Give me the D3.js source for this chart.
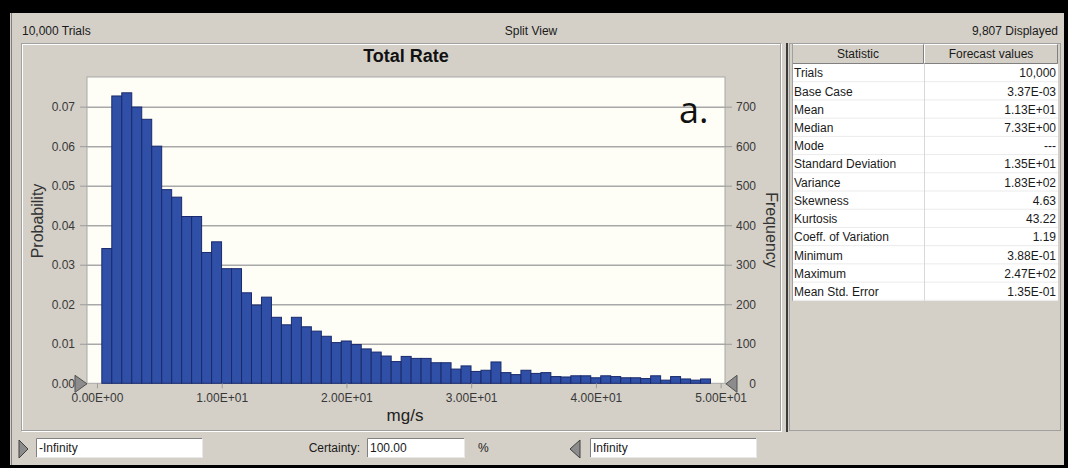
<!DOCTYPE html>
<html>
<meta charset="utf-8">
<style>
  body { margin: 0; background: #000; }
  svg { display: block; font-family: "Liberation Sans", Arial, sans-serif; }
  .axis path.domain { display: none; }
  .axis line { stroke: #9c9c9c; }
  .axis text { fill: #383838; font-size: 12px; font-family: "Liberation Sans", Arial, sans-serif; }
  .grid line { stroke: #a8a8a8; stroke-width: 1.5; }
  .grid path.domain { display: none; }
  .ui { font-size: 12px; fill: #1a1a1a; }
</style>
<body>
<svg width="1068" height="468"></svg>

<script src="https://d3js.org/d3.v7.min.js"></script>
<script>

// histogram counts per bin, 10,000 trials
var freq = [341, 727, 735, 699, 668, 600, 490, 471, 422, 422,
            331, 358, 290, 290, 229, 198, 218, 167, 148, 167,
            143, 132, 119, 103, 107, 98, 87, 79, 69, 55,
            68, 63, 63, 52, 52, 36, 44, 30, 33, 54,
            27, 22, 33, 25, 27, 17, 16, 19, 19, 14,
            19, 17, 14, 14, 12, 19, 8, 17, 11, 8, 11];
var binStart = 0.388, binWidth = 0.8;
var trials = 10000;

var xTicks = [0, 10, 20, 30, 40, 50];
var probTicks = [0, 0.01, 0.02, 0.03, 0.04, 0.05, 0.06, 0.07];
var freqTicks = [0, 100, 200, 300, 400, 500, 600, 700];

var statNames = ["Trials", "Base Case", "Mean", "Median", "Mode", "Standard Deviation",
                 "Variance", "Skewness", "Kurtosis", "Coeff. of Variation",
                 "Minimum", "Maximum", "Mean Std. Error"];
var statValues = ["10,000", "3.37E-03", "1.13E+01", "7.33E+00", "---", "1.35E+01",
                  "1.83E+02", "4.63", "43.22", "1.19", "3.88E-01", "2.47E+02", "1.35E-01"];

var svg = d3.select("svg");

// window chrome
svg.append("rect").attr("x", 10).attr("y", 13).attr("width", 1054).attr("height", 452)
  .attr("fill", "#d4d0c8");
svg.append("line").attr("x1", 11.5).attr("x2", 11.5).attr("y1", 13).attr("y2", 465)
  .attr("stroke", "#808080");

svg.append("text").attr("class", "ui").attr("x", 22).attr("y", 35).text("10,000 Trials");
svg.append("text").attr("class", "ui").attr("x", 531).attr("y", 35)
  .attr("text-anchor", "middle").text("Split View");
svg.append("text").attr("class", "ui").attr("x", 1058).attr("y", 35)
  .attr("text-anchor", "end").text("9,807 Displayed");

// chart panel (etched border)
svg.append("rect").attr("x", 22.5).attr("y", 44.5).attr("width", 759).attr("height", 387)
  .attr("fill", "none").attr("stroke", "#fff");
svg.append("rect").attr("x", 21.5).attr("y", 43.5).attr("width", 759).attr("height", 387)
  .attr("fill", "none").attr("stroke", "#a0a0a0");

// stats panel
svg.append("rect").attr("x", 789.5).attr("y", 43.5).attr("width", 271).attr("height", 387)
  .attr("fill", "none").attr("stroke", "#a0a0a0");
svg.append("line").attr("x1", 787).attr("x2", 787).attr("y1", 43).attr("y2", 432)
  .attr("stroke", "#3a3a3a").attr("stroke-width", 2);

// plot
var plot = {left: 87, right: 725, top: 77, bottom: 383.3};

var x = d3.scaleLinear().domain([-0.8, 50.35]).range([plot.left, plot.right]);
var yProb = d3.scaleLinear().domain([0, 0.0775]).range([plot.bottom, plot.top]);
var yFreq = d3.scaleLinear().domain([0, 0.0775 * trials]).range([plot.bottom, plot.top]);

svg.append("rect").attr("x", plot.left).attr("y", plot.top)
  .attr("width", plot.right - plot.left).attr("height", plot.bottom - plot.top)
  .attr("fill", "#fefef6").attr("stroke", "#a8a8a8");

svg.append("g").attr("class", "grid")
  .attr("transform", "translate(" + plot.left + ",0)")
  .call(d3.axisLeft(yProb).tickValues(probTicks.slice(1))
    .tickSize(-(plot.right - plot.left)).tickFormat(""));

function sci(d) {
  if (d === 0) return "0.00E+00";
  var e = Math.floor(Math.log10(Math.abs(d)));
  var m = d / Math.pow(10, e);
  return m.toFixed(2) + "E" + (e < 0 ? "-" : "+") + String(Math.abs(e)).padStart(2, "0");
}

// bars
svg.append("g").selectAll("rect")
  .data(freq)
  .enter().append("rect")
    .attr("x", function(d, i) { return x(binStart + i * binWidth); })
    .attr("width", function() { return x(binWidth) - x(0); })
    .attr("y", function(d) { return yFreq(d); })
    .attr("height", function(d) { return yFreq(0) - yFreq(d); })
    .attr("fill", "#2f50a6")
    .attr("stroke", "#1a2a6c")
    .attr("stroke-width", 1);

svg.append("g").attr("class", "axis")
  .attr("transform", "translate(" + plot.left + ",0)")
  .call(d3.axisLeft(yProb).tickValues(probTicks).tickSize(7).tickPadding(5)
    .tickFormat(d3.format(".2f")));

var rightAxis = svg.append("g").attr("class", "axis")
  .attr("transform", "translate(" + plot.right + ",0)")
  .call(d3.axisRight(yFreq).tickValues(freqTicks).tickSize(7).tickFormat(d3.format("d")));
rightAxis.selectAll("text").attr("text-anchor", "end").attr("x", 31);

svg.append("g").attr("class", "axis")
  .attr("transform", "translate(0," + plot.bottom + ")")
  .call(d3.axisBottom(x).tickValues(xTicks).tickSize(5).tickPadding(5).tickFormat(sci));

// certainty grabbers
svg.append("path")
  .attr("d", "M" + (plot.left - 12) + "," + (plot.bottom - 8) + "L" + plot.left + "," + (plot.bottom + 0.5) +
             "L" + (plot.left - 12) + "," + (plot.bottom + 9) + "Z")
  .attr("fill", "#8c8c8c").attr("stroke", "#505050");
svg.append("path")
  .attr("d", "M" + (plot.right + 12) + "," + (plot.bottom - 8) + "L" + (plot.right + 1) + "," + (plot.bottom + 0.5) +
             "L" + (plot.right + 12) + "," + (plot.bottom + 9) + "Z")
  .attr("fill", "#8c8c8c").attr("stroke", "#505050");

// titles
svg.append("text").attr("x", 406).attr("y", 62).attr("text-anchor", "middle")
  .style("font-weight", "bold").style("font-size", "18px").attr("fill", "#111")
  .text("Total Rate");
svg.append("text").attr("x", 405).attr("y", 421).attr("text-anchor", "middle")
  .style("font-size", "17px").attr("fill", "#222").text("mg/s");
svg.append("text").attr("transform", "translate(43,221) rotate(-90)")
  .attr("text-anchor", "middle").style("font-size", "16px").attr("fill", "#333")
  .text("Probability");
svg.append("text").attr("transform", "translate(766,230) rotate(90)")
  .attr("text-anchor", "middle").style("font-size", "16px").attr("fill", "#333")
  .text("Frequency");
svg.append("text").attr("x", 679).attr("y", 123)
  .style("font-family", "'Open Sans', sans-serif").style("font-size", "36px").attr("fill", "#111")
  .text("a.");

// stats table
var tbl = {left: 792, right: 1058, mid: 924, top: 44, head: 64};
var rowY = d3.scaleBand().domain(statNames).range([tbl.head, 300.8]);

svg.append("rect").attr("x", tbl.left).attr("y", tbl.top)
  .attr("width", tbl.right - tbl.left).attr("height", tbl.head - tbl.top).attr("fill", "#d4d0c8");
[[tbl.left, tbl.mid], [tbl.mid, tbl.right]].forEach(function(c) {
  svg.append("path").attr("d", "M" + (c[0] + 0.5) + "," + (tbl.head - 1) + "V" + (tbl.top + 0.5) + "H" + (c[1] - 0.5))
    .attr("fill", "none").attr("stroke", "#fff");
  svg.append("path").attr("d", "M" + (c[0] + 0.5) + "," + (tbl.head - 0.5) + "H" + (c[1] - 0.5) + "V" + (tbl.top + 0.5))
    .attr("fill", "none").attr("stroke", "#808080");
});
svg.append("text").attr("class", "ui").attr("x", (tbl.left + tbl.mid) / 2).attr("y", 58)
  .attr("text-anchor", "middle").text("Statistic");
svg.append("text").attr("class", "ui").attr("x", (tbl.mid + tbl.right) / 2).attr("y", 58)
  .attr("text-anchor", "middle").text("Forecast values");

svg.append("rect").attr("x", tbl.left).attr("y", tbl.head)
  .attr("width", tbl.right - tbl.left).attr("height", 300.8 - tbl.head).attr("fill", "#fff");

var rows = svg.append("g").selectAll("g").data(statNames).enter().append("g")
  .attr("transform", function(d) { return "translate(0," + rowY(d) + ")"; });
rows.append("line").attr("x1", tbl.left).attr("x2", tbl.right)
  .attr("y1", rowY.bandwidth() - 0.5).attr("y2", rowY.bandwidth() - 0.5)
  .attr("stroke", "#ebebeb");
rows.append("text").attr("class", "ui").attr("x", tbl.left + 2)
  .attr("y", rowY.bandwidth() / 2).attr("dy", "0.36em").text(function(d) { return d; });
rows.append("text").attr("class", "ui").attr("x", tbl.right - 2)
  .attr("y", rowY.bandwidth() / 2).attr("dy", "0.36em").attr("text-anchor", "end")
  .text(function(d, i) { return statValues[i]; });
svg.append("line").attr("x1", tbl.mid + 0.5).attr("x2", tbl.mid + 0.5)
  .attr("y1", tbl.head).attr("y2", 300.8).attr("stroke", "#d8d8d8");
svg.append("line").attr("x1", tbl.left + 0.5).attr("x2", tbl.left + 0.5)
  .attr("y1", tbl.top).attr("y2", 300.8).attr("stroke", "#a0a0a0");

// bottom controls
function textBox(x0, x1, label) {
  svg.append("rect").attr("x", x0).attr("y", 438).attr("width", x1 - x0).attr("height", 20)
    .attr("fill", "#fff");
  svg.append("path").attr("d", "M" + (x0 + 0.5) + ",457.5V438.5H" + (x1 - 0.5))
    .attr("fill", "none").attr("stroke", "#808080");
  svg.append("path").attr("d", "M" + (x0 + 0.5) + ",457.5H" + (x1 - 0.5) + "V438.5")
    .attr("fill", "none").attr("stroke", "#e8e8e8");
  svg.append("text").attr("class", "ui").attr("x", x0 + 3).attr("y", 452).text(label);
}
svg.append("path").attr("d", "M19,440L28,449L19,458Z").attr("fill", "#8c8c8c").attr("stroke", "#404040");
textBox(36, 203, "-Infinity");
svg.append("text").attr("class", "ui").attr("x", 360).attr("y", 452).attr("text-anchor", "end")
  .text("Certainty:");
textBox(367, 465, "100.00");
svg.append("text").attr("class", "ui").attr("x", 478).attr("y", 452).text("%");
svg.append("path").attr("d", "M580,440L570,449L580,458Z").attr("fill", "#8c8c8c").attr("stroke", "#404040");
textBox(590, 757, "Infinity");

</script>
</body>
</html>
